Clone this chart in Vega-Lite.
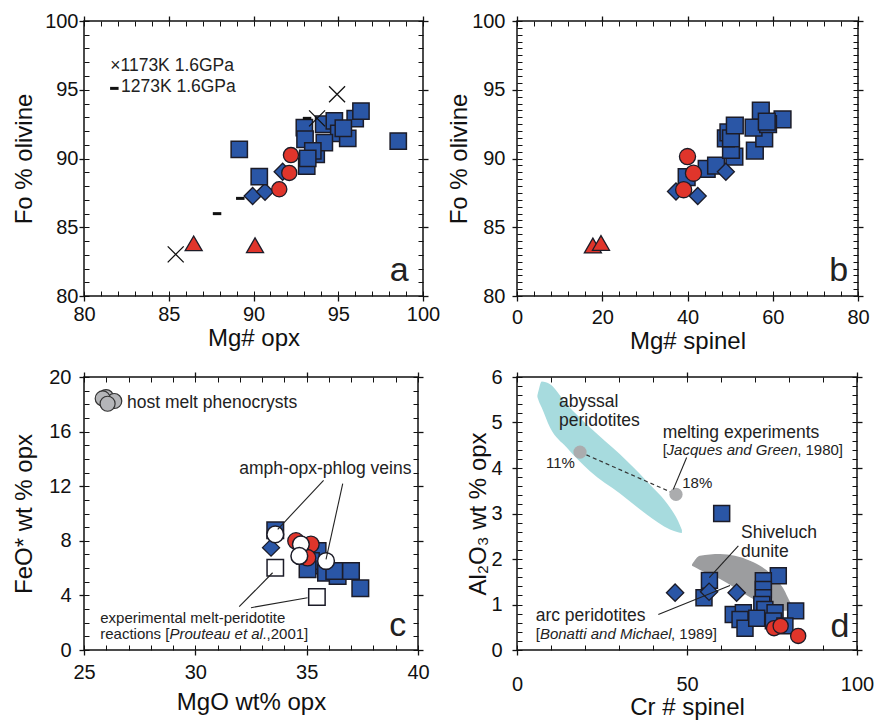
{
  "$schema": "https://vega.github.io/schema/vega-lite/v6.json",
  "padding": {"left": 11, "top": 10, "right": 0, "bottom": 0},
  "columns": 2,
  "spacing": {"row": 81, "column": 94},
  "bounds": "flush",
  "align": "each",
  "config": {
    "font": "Liberation Sans",
    "view": {"stroke": "#111", "strokeWidth": 1.5},
    "axis": {"domain": false, "grid": false, "labelFont": "Liberation Sans", "labelFontSize": 20, "labelColor": "#111", "labelFlush": false, "labelOverlap": false, "tickColor": "#111", "tickWidth": 1, "titleFont": "Liberation Sans", "titleFontSize": 24, "titleFontWeight": "normal", "titleColor": "#111"}
  },
  "datasets": {
    "a_sq": [{"x":89.16,"y":90.67},{"x":90.34,"y":88.68},{"x":98.54,"y":91.27},{"x":93.0,"y":92.24},{"x":93.04,"y":91.4},{"x":94.14,"y":92.49},{"x":94.77,"y":92.73},{"x":95.03,"y":91.83},{"x":95.56,"y":91.47},{"x":96.0,"y":92.9},{"x":96.34,"y":93.45},{"x":93.7,"y":90.3},{"x":95.3,"y":92.2},{"x":94.18,"y":91.15},{"x":93.5,"y":90.55},{"x":93.14,"y":89.45},{"x":93.2,"y":90.01}],
    "a_di": [{"x":91.72,"y":89.04},{"x":89.95,"y":87.27},{"x":90.68,"y":87.58}],
    "a_ci": [{"x":92.21,"y":90.25},{"x":92.11,"y":88.95},{"x":91.52,"y":87.76}],
    "a_tr": [{"x":86.47,"y":83.83},{"x":90.09,"y":83.69}],
    "a_x": [{"x":85.41,"y":83.03},{"x":94.93,"y":94.67},{"x":93.75,"y":92.92}],
    "a_dash": [{"x":87.85,"y":85.99},{"x":89.22,"y":87.1},{"x":93.16,"y":92.92},{"x":81.79,"y":95.1}],
    "a_leg": [{"x":81.55,"y":96.73,"label":"×1173K 1.6GPa"},{"x":82.18,"y":95.2,"label":"1273K 1.6GPa"}],
    "a_lab": [{"x":98.6,"y":81.09,"label":"a"}],
    "b_sq": [{"x":39.8,"y":88.64},{"x":44.5,"y":89.25},{"x":46.7,"y":89.49},{"x":51.0,"y":90.14},{"x":50.2,"y":90.63},{"x":55.8,"y":90.58},{"x":49.0,"y":91.47},{"x":49.6,"y":91.9},{"x":50.2,"y":91.47},{"x":58.0,"y":91.47},{"x":51.1,"y":92.4},{"x":55.5,"y":92.25},{"x":57.2,"y":93.48},{"x":62.3,"y":92.85},{"x":58.9,"y":92.5},{"x":58.6,"y":92.68}],
    "b_di": [{"x":49.0,"y":89.04},{"x":42.4,"y":87.27},{"x":37.3,"y":87.6}],
    "b_ci": [{"x":40.0,"y":90.14},{"x":41.4,"y":88.93},{"x":39.1,"y":87.73}],
    "b_tr": [{"x":17.8,"y":83.67},{"x":19.7,"y":83.86}],
    "b_lab": [{"x":75.47,"y":81.09,"label":"b"}],
    "c_sq": [{"x":33.59,"y":8.77},{"x":35.49,"y":7.25},{"x":35.6,"y":6.2},{"x":35.19,"y":6.52},{"x":35.04,"y":5.91},{"x":35.87,"y":5.66},{"x":36.39,"y":5.42},{"x":36.24,"y":5.79},{"x":36.99,"y":5.79},{"x":37.41,"y":4.52}],
    "c_di": [{"x":33.4,"y":7.5}],
    "c_red": [{"x":34.52,"y":7.99},{"x":35.19,"y":7.74},{"x":35.04,"y":6.76}],
    "c_white": [{"x":33.59,"y":8.47},{"x":34.74,"y":7.74},{"x":34.67,"y":6.89},{"x":35.87,"y":6.52}],
    "c_open": [{"x":33.59,"y":6.03},{"x":35.46,"y":3.88}],
    "c_grey": [{"x":25.99,"y":18.53},{"x":26.36,"y":18.24},{"x":25.84,"y":18.43},{"x":26.06,"y":18.04}],
    "c_rules": [{"x":35.76,"y":12.43,"x2":33.7,"y2":8.84},{"x":36.62,"y":12.18,"x2":35.87,"y2":6.64},{"x":31.97,"y":3.17,"x2":33.47,"y2":5.66},{"x":32.5,"y":3.1,"x2":35.04,"y2":3.83}],
    "c_t18": [{"x":26.93,"y":18.12,"label":"host melt phenocrysts"},{"x":31.97,"y":13.28,"label":"amph-opx-phlog veins"}],
    "c_t15": [{"x":25.73,"y":2.32,"label":"experimental melt-peridotite"},{"x":25.73,"y":1.15,"label":"reactions ["},{"x":33.2,"y":1.15,"label":",2001]"}],
    "c_ti": [{"x":28.84,"y":1.15,"label":"Prouteau et al."}],
    "c_lab": [{"x":39.09,"y":1.03,"label":"c"}],
    "d_cyan": [{"x":6.0,"hi":5.6,"lo":5.56},{"x":6.5,"hi":5.75,"lo":5.45},{"x":7.26,"hi":5.9,"lo":5.33},{"x":9.71,"hi":5.84,"lo":4.89},{"x":14.62,"hi":5.4,"lo":4.45},{"x":21.47,"hi":4.89,"lo":3.93},{"x":30.29,"hi":4.3,"lo":3.44},{"x":38.15,"hi":3.71,"lo":2.98},{"x":45.0,"hi":3.13,"lo":2.65},{"x":47.35,"hi":2.84,"lo":2.59},{"x":48.5,"hi":2.64,"lo":2.57}],
    "d_grey": [{"x":51.47,"hi":1.88,"lo":1.85},{"x":53.82,"hi":2.07,"lo":1.76},{"x":59.71,"hi":2.11,"lo":1.56},{"x":68.53,"hi":1.96,"lo":1.16},{"x":74.41,"hi":1.69,"lo":0.95},{"x":78.24,"hi":1.36,"lo":0.86},{"x":80.88,"hi":0.99,"lo":0.86},{"x":81.76,"hi":0.92,"lo":0.88}],
    "d_melt": [{"x":18.53,"y":4.35},{"x":46.76,"y":3.42}],
    "d_sq": [{"x":60.2,"y":3.0},{"x":56.6,"y":1.53},{"x":55.0,"y":1.15},{"x":76.85,"y":1.63},{"x":72.45,"y":1.52},{"x":72.45,"y":1.33},{"x":72.45,"y":1.15},{"x":72.0,"y":1.0},{"x":81.96,"y":0.86},{"x":72.9,"y":0.89},{"x":63.6,"y":0.78},{"x":66.57,"y":0.82},{"x":65.6,"y":0.67},{"x":67.06,"y":0.48},{"x":70.5,"y":0.7},{"x":75.9,"y":0.82},{"x":75.4,"y":0.64},{"x":78.8,"y":0.53}],
    "d_di": [{"x":46.5,"y":1.26},{"x":56.5,"y":1.28},{"x":64.6,"y":1.26}],
    "d_red": [{"x":75.6,"y":0.48},{"x":77.55,"y":0.53},{"x":82.7,"y":0.31}],
    "d_rules": [{"x":49.9,"y":4.23,"x2":45.97,"y2":3.53},{"x":65.1,"y":2.29,"x2":56.56,"y2":1.59},{"x":41.56,"y":0.78,"x2":62.65,"y2":1.42}],
    "d_t18": [{"x":12.35,"y":5.46,"label":"abyssal"},{"x":12.35,"y":5.03,"label":"peridotites"},{"x":42.84,"y":4.78,"label":"melting experiments"},{"x":65.88,"y":2.58,"label":"Shiveluch"},{"x":65.88,"y":2.15,"label":"dunite"},{"x":5.49,"y":0.75,"label":"arc peridotites"}],
    "d_t15": [{"x":42.84,"y":4.39,"label":"["},{"x":82.4,"y":4.39,"label":", 1980]"},{"x":5.49,"y":0.36,"label":"["},{"x":45.3,"y":0.36,"label":", 1989]"},{"x":8.53,"y":4.12,"label":"11%"},{"x":48.6,"y":3.68,"label":"18%"}],
    "d_ti": [{"x":44.0,"y":4.39,"label":"Jacques and Green"},{"x":6.73,"y":0.36,"label":"Bonatti and Michael"}],
    "d_lab": [{"x":95.0,"y":0.29,"label":"d"}]
  },
  "concat": [
    {
      "width": 339, "height": 275,
      "resolve": {"axis": {"x": "independent", "y": "independent"}},
      "layer": [
        {"data": {"name": "a_tr"}, "mark": {"type": "point", "shape": "triangle-up", "filled": true, "color": "#e0352b", "stroke": "#1c1c28", "strokeWidth": 1.3, "size": 290, "opacity": 1},
         "encoding": {
           "x": {"field": "x", "type": "quantitative", "scale": {"domain": [80, 100]}, "axis": {"orient": "bottom", "values": [80,85,90,95,100], "tickSize": 5, "tickWidth": 1.3, "labelPadding": 3.5, "title": "Mg# opx", "titlePadding": 2}},
           "y": {"field": "y", "type": "quantitative", "scale": {"domain": [80, 100]}, "axis": {"orient": "left", "values": [80,85,90,95,100], "tickSize": 5, "tickWidth": 1.3, "labelPadding": 1, "title": "Fo % olivine", "titlePadding": 8}}}},
        {"data": {"name": "a_di"}, "mark": {"type": "point", "shape": "diamond", "filled": true, "color": "#2a56a6", "stroke": "#1c1c28", "strokeWidth": 1.3, "size": 290, "opacity": 1},
         "encoding": {
           "x": {"field": "x", "type": "quantitative", "scale": {"domain": [80, 100]}, "axis": {"orient": "bottom", "values": [80,81,82,83,84,85,86,87,88,89,90,91,92,93,94,95,96,97,98,99,100], "tickSize": -5, "labels": false, "title": null}},
           "y": {"field": "y", "type": "quantitative", "scale": {"domain": [80, 100]}, "axis": {"orient": "left", "values": [80,81,82,83,84,85,86,87,88,89,90,91,92,93,94,95,96,97,98,99,100], "tickSize": -5, "labels": false, "title": null}}}},
        {"data": {"name": "a_sq"}, "mark": {"type": "point", "shape": "square", "filled": true, "color": "#2a56a6", "stroke": "#1c1c28", "strokeWidth": 1.5, "size": 265, "opacity": 1},
         "encoding": {
           "x": {"field": "x", "type": "quantitative", "scale": {"domain": [80, 100]}, "axis": {"orient": "top", "values": [80,85,90,95,100], "tickSize": 5, "tickWidth": 1.3, "labels": false, "title": null}},
           "y": {"field": "y", "type": "quantitative", "scale": {"domain": [80, 100]}, "axis": {"orient": "right", "values": [80,85,90,95,100], "tickSize": 5, "tickWidth": 1.3, "labels": false, "title": null}}}},
        {"data": {"name": "a_ci"}, "mark": {"type": "point", "shape": "circle", "filled": true, "color": "#e0352b", "stroke": "#1c1c28", "strokeWidth": 1.3, "size": 230, "opacity": 1},
         "encoding": {
           "x": {"field": "x", "type": "quantitative", "scale": {"domain": [80, 100]}, "axis": {"orient": "top", "values": [80,81,82,83,84,85,86,87,88,89,90,91,92,93,94,95,96,97,98,99,100], "tickSize": -5, "labels": false, "title": null}},
           "y": {"field": "y", "type": "quantitative", "scale": {"domain": [80, 100]}, "axis": {"orient": "right", "values": [80,81,82,83,84,85,86,87,88,89,90,91,92,93,94,95,96,97,98,99,100], "tickSize": -5, "labels": false, "title": null}}}},
        {"data": {"name": "a_x"}, "mark": {"type": "point", "shape": "M-1,-1L1,1M-1,1L1,-1", "filled": false, "stroke": "#111", "strokeWidth": 1.3, "size": 256, "opacity": 1},
         "encoding": {
           "x": {"field": "x", "type": "quantitative", "scale": {"domain": [80, 100]}, "axis": null},
           "y": {"field": "y", "type": "quantitative", "scale": {"domain": [80, 100]}, "axis": null}}},
        {"data": {"name": "a_dash"}, "mark": {"type": "point", "shape": "M-1,0L1,0", "filled": false, "stroke": "#111", "strokeWidth": 3, "size": 72, "opacity": 1},
         "encoding": {
           "x": {"field": "x", "type": "quantitative", "scale": {"domain": [80, 100]}, "axis": null},
           "y": {"field": "y", "type": "quantitative", "scale": {"domain": [80, 100]}, "axis": null}}},
        {"data": {"name": "a_leg"}, "mark": {"type": "text", "align": "left", "baseline": "middle", "fontSize": 17.5, "color": "#222"},
         "encoding": {
           "x": {"field": "x", "type": "quantitative", "scale": {"domain": [80, 100]}, "axis": null},
           "y": {"field": "y", "type": "quantitative", "scale": {"domain": [80, 100]}, "axis": null},
           "text": {"field": "label"}}},
        {"data": {"name": "a_lab"}, "mark": {"type": "text", "align": "center", "baseline": "alphabetic", "fontSize": 34, "color": "#222"},
         "encoding": {
           "x": {"field": "x", "type": "quantitative", "scale": {"domain": [80, 100]}, "axis": null},
           "y": {"field": "y", "type": "quantitative", "scale": {"domain": [80, 100]}, "axis": null},
           "text": {"field": "label"}}}
      ]
    },
    {
      "width": 341, "height": 275,
      "resolve": {"axis": {"x": "independent", "y": "independent"}},
      "layer": [
        {"data": {"name": "b_tr"}, "mark": {"type": "point", "shape": "triangle-up", "filled": true, "color": "#e0352b", "stroke": "#1c1c28", "strokeWidth": 1.3, "size": 290, "opacity": 1},
         "encoding": {
           "x": {"field": "x", "type": "quantitative", "scale": {"domain": [0, 80]}, "axis": {"orient": "bottom", "values": [0,20,40,60,80], "tickSize": 5, "tickWidth": 1.3, "labelPadding": 6, "title": "Mg# spinel", "titlePadding": 2}},
           "y": {"field": "y", "type": "quantitative", "scale": {"domain": [80, 100]}, "axis": {"orient": "left", "values": [80,85,90,95,100], "tickSize": 5, "tickWidth": 1.3, "labelPadding": 7, "title": "Fo % olivine", "titlePadding": 0}}}},
        {"data": {"name": "b_sq"}, "mark": {"type": "point", "shape": "square", "filled": true, "color": "#2a56a6", "stroke": "#1c1c28", "strokeWidth": 1.5, "size": 280, "opacity": 1},
         "encoding": {
           "x": {"field": "x", "type": "quantitative", "scale": {"domain": [0, 80]}, "axis": {"orient": "bottom", "values": [0,4,8,12,16,20,24,28,32,36,40,44,48,52,56,60,64,68,72,76,80], "tickSize": -5, "labels": false, "title": null}},
           "y": {"field": "y", "type": "quantitative", "scale": {"domain": [80, 100]}, "axis": {"orient": "left", "values": [80,80.5,81,81.5,82,82.5,83,83.5,84,84.5,85,85.5,86,86.5,87,87.5,88,88.5,89,89.5,90,90.5,91,91.5,92,92.5,93,93.5,94,94.5,95,95.5,96,96.5,97,97.5,98,98.5,99,99.5,100], "tickSize": -5, "labels": false, "title": null}}}},
        {"data": {"name": "b_di"}, "mark": {"type": "point", "shape": "diamond", "filled": true, "color": "#2a56a6", "stroke": "#1c1c28", "strokeWidth": 1.3, "size": 290, "opacity": 1},
         "encoding": {
           "x": {"field": "x", "type": "quantitative", "scale": {"domain": [0, 80]}, "axis": {"orient": "top", "values": [0,20,40,60,80], "tickSize": 5, "tickWidth": 1.3, "labels": false, "title": null}},
           "y": {"field": "y", "type": "quantitative", "scale": {"domain": [80, 100]}, "axis": {"orient": "right", "values": [80,85,90,95,100], "tickSize": 5, "tickWidth": 1.3, "labels": false, "title": null}}}},
        {"data": {"name": "b_ci"}, "mark": {"type": "point", "shape": "circle", "filled": true, "color": "#e0352b", "stroke": "#1c1c28", "strokeWidth": 1.3, "size": 260, "opacity": 1},
         "encoding": {
           "x": {"field": "x", "type": "quantitative", "scale": {"domain": [0, 80]}, "axis": {"orient": "top", "values": [0,4,8,12,16,20,24,28,32,36,40,44,48,52,56,60,64,68,72,76,80], "tickSize": -5, "labels": false, "title": null}},
           "y": {"field": "y", "type": "quantitative", "scale": {"domain": [80, 100]}, "axis": {"orient": "right", "values": [80,80.5,81,81.5,82,82.5,83,83.5,84,84.5,85,85.5,86,86.5,87,87.5,88,88.5,89,89.5,90,90.5,91,91.5,92,92.5,93,93.5,94,94.5,95,95.5,96,96.5,97,97.5,98,98.5,99,99.5,100], "tickSize": -5, "labels": false, "title": null}}}},
        {"data": {"name": "b_lab"}, "mark": {"type": "text", "align": "center", "baseline": "alphabetic", "fontSize": 34, "color": "#222"},
         "encoding": {
           "x": {"field": "x", "type": "quantitative", "scale": {"domain": [0, 80]}, "axis": null},
           "y": {"field": "y", "type": "quantitative", "scale": {"domain": [80, 100]}, "axis": null},
           "text": {"field": "label"}}}
      ]
    },
    {
      "width": 334, "height": 273,
      "resolve": {"axis": {"x": "independent", "y": "independent"}},
      "layer": [
        {"data": {"name": "c_sq"}, "mark": {"type": "point", "shape": "square", "filled": true, "color": "#2a56a6", "stroke": "#1c1c28", "strokeWidth": 1.5, "size": 275, "opacity": 1},
         "encoding": {
           "x": {"field": "x", "type": "quantitative", "scale": {"domain": [25, 40]}, "axis": {"orient": "bottom", "values": [25,30,35,40], "tickSize": 5, "tickWidth": 1.3, "labelPadding": 7.8, "title": "MgO wt% opx", "titlePadding": 7.8}},
           "y": {"field": "y", "type": "quantitative", "scale": {"domain": [0, 20]}, "axis": {"orient": "left", "values": [0,4,8,12,16,20], "tickSize": 5, "tickWidth": 1.3, "labelPadding": 8, "title": "FeO* wt % opx", "titlePadding": 12}}}},
        {"data": {"name": "c_di"}, "mark": {"type": "point", "shape": "diamond", "filled": true, "color": "#2a56a6", "stroke": "#1c1c28", "strokeWidth": 1.3, "size": 290, "opacity": 1},
         "encoding": {
           "x": {"field": "x", "type": "quantitative", "scale": {"domain": [25, 40]}, "axis": {"orient": "bottom", "values": [25,26,27,28,29,30,31,32,33,34,35,36,37,38,39,40], "tickSize": -5, "labels": false, "title": null}},
           "y": {"field": "y", "type": "quantitative", "scale": {"domain": [0, 20]}, "axis": {"orient": "left", "values": [0,1,2,3,4,5,6,7,8,9,10,11,12,13,14,15,16,17,18,19,20], "tickSize": -5, "labels": false, "title": null}}}},
        {"data": {"name": "c_red"}, "mark": {"type": "point", "shape": "circle", "filled": true, "color": "#e0352b", "stroke": "#1c1c28", "strokeWidth": 1.3, "size": 270, "opacity": 1},
         "encoding": {
           "x": {"field": "x", "type": "quantitative", "scale": {"domain": [25, 40]}, "axis": {"orient": "top", "values": [25,30,35,40], "tickSize": 5, "tickWidth": 1.3, "labels": false, "title": null}},
           "y": {"field": "y", "type": "quantitative", "scale": {"domain": [0, 20]}, "axis": {"orient": "right", "values": [0,4,8,12,16,20], "tickSize": 5, "tickWidth": 1.3, "labels": false, "title": null}}}},
        {"data": {"name": "c_white"}, "mark": {"type": "point", "shape": "circle", "filled": true, "color": "#ffffff", "stroke": "#1c1c28", "strokeWidth": 1.5, "size": 280, "opacity": 1},
         "encoding": {
           "x": {"field": "x", "type": "quantitative", "scale": {"domain": [25, 40]}, "axis": {"orient": "top", "values": [25,26,27,28,29,30,31,32,33,34,35,36,37,38,39,40], "tickSize": -5, "labels": false, "title": null}},
           "y": {"field": "y", "type": "quantitative", "scale": {"domain": [0, 20]}, "axis": {"orient": "right", "values": [0,1,2,3,4,5,6,7,8,9,10,11,12,13,14,15,16,17,18,19,20], "tickSize": -5, "labels": false, "title": null}}}},
        {"data": {"name": "c_open"}, "mark": {"type": "point", "shape": "square", "filled": true, "color": "#ffffff", "stroke": "#1c1c28", "strokeWidth": 1.5, "size": 270, "opacity": 1},
         "encoding": {
           "x": {"field": "x", "type": "quantitative", "scale": {"domain": [25, 40]}, "axis": null},
           "y": {"field": "y", "type": "quantitative", "scale": {"domain": [0, 20]}, "axis": null}}},
        {"data": {"name": "c_grey"}, "mark": {"type": "point", "shape": "circle", "filled": true, "color": "#b4b5b8", "stroke": "#333333", "strokeWidth": 1.2, "size": 225, "opacity": 1},
         "encoding": {
           "x": {"field": "x", "type": "quantitative", "scale": {"domain": [25, 40]}, "axis": null},
           "y": {"field": "y", "type": "quantitative", "scale": {"domain": [0, 20]}, "axis": null}}},
        {"data": {"name": "c_rules"}, "mark": {"type": "rule", "color": "#222", "strokeWidth": 1.1},
         "encoding": {
           "x": {"field": "x", "type": "quantitative", "scale": {"domain": [25, 40]}, "axis": null},
           "y": {"field": "y", "type": "quantitative", "scale": {"domain": [0, 20]}, "axis": null},
           "x2": {"field": "x2"}, "y2": {"field": "y2"}}},
        {"data": {"name": "c_t18"}, "mark": {"type": "text", "align": "left", "baseline": "middle", "fontSize": 17.5, "color": "#222"},
         "encoding": {
           "x": {"field": "x", "type": "quantitative", "scale": {"domain": [25, 40]}, "axis": null},
           "y": {"field": "y", "type": "quantitative", "scale": {"domain": [0, 20]}, "axis": null},
           "text": {"field": "label"}}},
        {"data": {"name": "c_t15"}, "mark": {"type": "text", "align": "left", "baseline": "middle", "fontSize": 15, "color": "#222"},
         "encoding": {
           "x": {"field": "x", "type": "quantitative", "scale": {"domain": [25, 40]}, "axis": null},
           "y": {"field": "y", "type": "quantitative", "scale": {"domain": [0, 20]}, "axis": null},
           "text": {"field": "label"}}},
        {"data": {"name": "c_ti"}, "mark": {"type": "text", "align": "left", "baseline": "middle", "fontSize": 15, "fontStyle": "italic", "color": "#222"},
         "encoding": {
           "x": {"field": "x", "type": "quantitative", "scale": {"domain": [25, 40]}, "axis": null},
           "y": {"field": "y", "type": "quantitative", "scale": {"domain": [0, 20]}, "axis": null},
           "text": {"field": "label"}}},
        {"data": {"name": "c_lab"}, "mark": {"type": "text", "align": "center", "baseline": "alphabetic", "fontSize": 34, "color": "#222"},
         "encoding": {
           "x": {"field": "x", "type": "quantitative", "scale": {"domain": [25, 40]}, "axis": null},
           "y": {"field": "y", "type": "quantitative", "scale": {"domain": [0, 20]}, "axis": null},
           "text": {"field": "label"}}}
      ]
    },
    {
      "width": 340, "height": 273,
      "resolve": {"axis": {"x": "independent", "y": "independent"}},
      "layer": [
        {"data": {"name": "d_cyan"}, "mark": {"type": "area", "orient": "vertical", "interpolate": "monotone", "color": "#a7dbde", "opacity": 1},
         "encoding": {
           "x": {"field": "x", "type": "quantitative", "scale": {"domain": [0, 100]}, "axis": {"orient": "bottom", "values": [0,50,100], "tickSize": 5, "tickWidth": 1.3, "labelPadding": 19, "title": "Cr # spinel", "titlePadding": 1}},
           "y": {"field": "hi", "type": "quantitative", "scale": {"domain": [0, 6]}, "axis": {"orient": "left", "values": [0,1,2,3,4,5,6], "tickSize": 5, "tickWidth": 1.3, "labelPadding": 10, "title": "Al₂O₃ wt % opx", "titlePadding": 0.6}},
           "y2": {"field": "lo"}}},
        {"data": {"name": "d_grey"}, "mark": {"type": "area", "orient": "vertical", "interpolate": "monotone", "color": "#9c9d9f", "opacity": 1},
         "encoding": {
           "x": {"field": "x", "type": "quantitative", "scale": {"domain": [0, 100]}, "axis": {"orient": "bottom", "values": [0,10,20,30,40,50,60,70,80,90,100], "tickSize": -5, "labels": false, "title": null}},
           "y": {"field": "hi", "type": "quantitative", "scale": {"domain": [0, 6]}, "axis": {"orient": "left", "values": [0,0.2,0.4,0.6,0.8,1,1.2,1.4,1.6,1.8,2,2.2,2.4,2.6,2.8,3,3.2,3.4,3.6,3.8,4,4.2,4.4,4.6,4.8,5,5.2,5.4,5.6,5.8,6], "tickSize": -5, "labels": false, "title": null}},
           "y2": {"field": "lo"}}},
        {"data": {"name": "d_melt"}, "mark": {"type": "line", "color": "#333", "strokeWidth": 1.2, "strokeDash": [4, 3]},
         "encoding": {
           "x": {"field": "x", "type": "quantitative", "scale": {"domain": [0, 100]}, "axis": {"orient": "top", "values": [0,50,100], "tickSize": 5, "tickWidth": 1.3, "labels": false, "title": null}},
           "y": {"field": "y", "type": "quantitative", "scale": {"domain": [0, 6]}, "axis": {"orient": "right", "values": [0,1,2,3,4,5,6], "tickSize": 5, "tickWidth": 1.3, "labels": false, "title": null}}}},
        {"data": {"name": "d_melt"}, "mark": {"type": "point", "shape": "circle", "filled": true, "color": "#abacae", "size": 175, "opacity": 1},
         "encoding": {
           "x": {"field": "x", "type": "quantitative", "scale": {"domain": [0, 100]}, "axis": {"orient": "top", "values": [0,10,20,30,40,50,60,70,80,90,100], "tickSize": -5, "labels": false, "title": null}},
           "y": {"field": "y", "type": "quantitative", "scale": {"domain": [0, 6]}, "axis": {"orient": "right", "values": [0,0.2,0.4,0.6,0.8,1,1.2,1.4,1.6,1.8,2,2.2,2.4,2.6,2.8,3,3.2,3.4,3.6,3.8,4,4.2,4.4,4.6,4.8,5,5.2,5.4,5.6,5.8,6], "tickSize": -5, "labels": false, "title": null}}}},
        {"data": {"name": "d_sq"}, "mark": {"type": "point", "shape": "square", "filled": true, "color": "#2a56a6", "stroke": "#1c1c28", "strokeWidth": 1.5, "size": 255, "opacity": 1},
         "encoding": {
           "x": {"field": "x", "type": "quantitative", "scale": {"domain": [0, 100]}, "axis": null},
           "y": {"field": "y", "type": "quantitative", "scale": {"domain": [0, 6]}, "axis": null}}},
        {"data": {"name": "d_di"}, "mark": {"type": "point", "shape": "diamond", "filled": true, "color": "#2a56a6", "stroke": "#1c1c28", "strokeWidth": 1.3, "size": 300, "opacity": 1},
         "encoding": {
           "x": {"field": "x", "type": "quantitative", "scale": {"domain": [0, 100]}, "axis": null},
           "y": {"field": "y", "type": "quantitative", "scale": {"domain": [0, 6]}, "axis": null}}},
        {"data": {"name": "d_red"}, "mark": {"type": "point", "shape": "circle", "filled": true, "color": "#e0352b", "stroke": "#1c1c28", "strokeWidth": 1.3, "size": 230, "opacity": 1},
         "encoding": {
           "x": {"field": "x", "type": "quantitative", "scale": {"domain": [0, 100]}, "axis": null},
           "y": {"field": "y", "type": "quantitative", "scale": {"domain": [0, 6]}, "axis": null}}},
        {"data": {"name": "d_rules"}, "mark": {"type": "rule", "color": "#222", "strokeWidth": 1.1},
         "encoding": {
           "x": {"field": "x", "type": "quantitative", "scale": {"domain": [0, 100]}, "axis": null},
           "y": {"field": "y", "type": "quantitative", "scale": {"domain": [0, 6]}, "axis": null},
           "x2": {"field": "x2"}, "y2": {"field": "y2"}}},
        {"data": {"name": "d_t18"}, "mark": {"type": "text", "align": "left", "baseline": "middle", "fontSize": 17.5, "color": "#222"},
         "encoding": {
           "x": {"field": "x", "type": "quantitative", "scale": {"domain": [0, 100]}, "axis": null},
           "y": {"field": "y", "type": "quantitative", "scale": {"domain": [0, 6]}, "axis": null},
           "text": {"field": "label"}}},
        {"data": {"name": "d_t15"}, "mark": {"type": "text", "align": "left", "baseline": "middle", "fontSize": 15, "color": "#222"},
         "encoding": {
           "x": {"field": "x", "type": "quantitative", "scale": {"domain": [0, 100]}, "axis": null},
           "y": {"field": "y", "type": "quantitative", "scale": {"domain": [0, 6]}, "axis": null},
           "text": {"field": "label"}}},
        {"data": {"name": "d_ti"}, "mark": {"type": "text", "align": "left", "baseline": "middle", "fontSize": 15, "fontStyle": "italic", "color": "#222"},
         "encoding": {
           "x": {"field": "x", "type": "quantitative", "scale": {"domain": [0, 100]}, "axis": null},
           "y": {"field": "y", "type": "quantitative", "scale": {"domain": [0, 6]}, "axis": null},
           "text": {"field": "label"}}},
        {"data": {"name": "d_lab"}, "mark": {"type": "text", "align": "center", "baseline": "alphabetic", "fontSize": 34, "color": "#222"},
         "encoding": {
           "x": {"field": "x", "type": "quantitative", "scale": {"domain": [0, 100]}, "axis": null},
           "y": {"field": "y", "type": "quantitative", "scale": {"domain": [0, 6]}, "axis": null},
           "text": {"field": "label"}}}
      ]
    }
  ]
}
